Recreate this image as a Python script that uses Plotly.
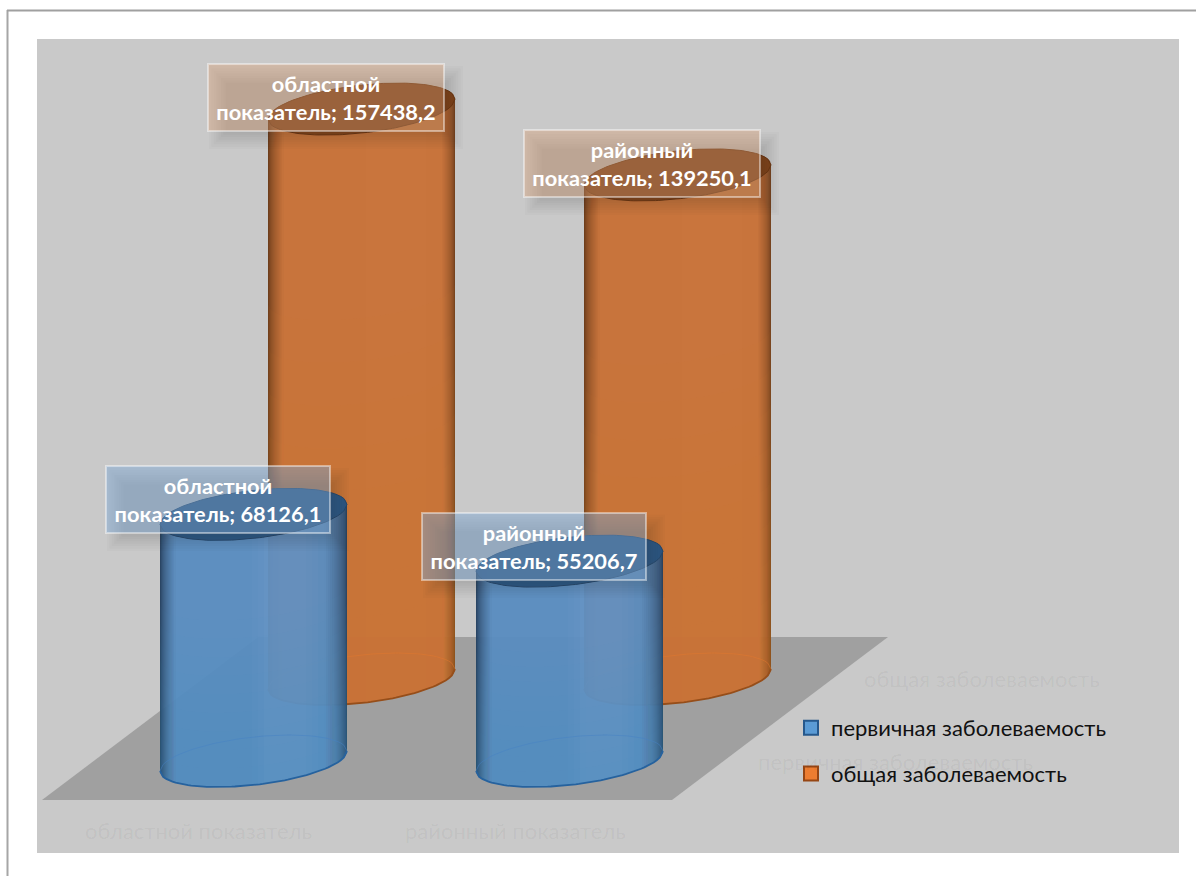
import math
import plotly.graph_objects as go

# ---- data ----
categories = ["областной показатель", "районный показатель"]
series_names = ["первичная заболеваемость", "общая заболеваемость"]
primary_values = [68126.1, 55206.7]
total_values = [157438.2, 139250.1]

# ---- view geometry of the pseudo 3D scene (pixels of the 1196x876 page) ----
W, H = 1196, 876
PX_CAT0, PX_STEP = 253.5, 316.0
PX_FRONT = 761.0
K = 0.00362                 # pixels per unit of value
DEPTH_PX_X, DEPTH_PX_Y = 108.0, 82.0
R_PX, RY_PX, SHEAR_PX = 93.5, 24.0, 10.0
FONT = "Lato, 'Noto Sans', sans-serif"


def dx(px):
    return (px - PX_CAT0) / PX_STEP


def dy(py):
    return (PX_FRONT - py) / K


def rgba(c, a):
    return f"rgba({round(c[0])},{round(c[1])},{round(c[2])},{a})"


def mix(a, b, t):
    return tuple(a[i] + (b[i] - a[i]) * t for i in range(3))


STYLE = [
    dict(base=(88, 140, 192), edge=(24, 48, 78), light=(90, 150, 215), top=(44, 86, 132), topline=(36, 72, 110),
         front=(38, 98, 158), back=(70, 130, 195), box=(125, 168, 215), boxa=0.45, alpha=0.95,
         swatch=(91, 155, 213), swline=(38, 88, 140), light_band=(106, 148, 198), band=0.5,
         dark_right=22, label_dy=-15.0, overlay=0.022),
    dict(base=(200, 112, 54), edge=(90, 46, 14), light=(232, 130, 56), top=(126, 66, 24), topline=(110, 56, 18),
         front=(150, 78, 26), back=(225, 120, 45), box=(222, 160, 115), boxa=0.38, alpha=0.96,
         swatch=(237, 125, 49), swline=(150, 70, 20), light_band=(205, 116, 58), band=0.25,
         dark_right=14, label_dy=-11.5, overlay=0.035),
]

fig = go.Figure()


def add_poly(xs, ys, fill, line=None, width=0, closed=True):
    fig.add_trace(go.Scatter(
        x=xs, y=ys, mode="lines", fill="toself" if closed else None, fillcolor=fill,
        line=dict(color=line or "rgba(0,0,0,0)", width=width),
        hoverinfo="skip", showlegend=False))


def arc(cx_px, base_val, sign, px_list):
    """points of the ellipse centred on (cx_px, base_val); sign=+1 front, -1 back"""
    out = []
    for p in px_list:
        u = max(-1.0, min(1.0, (p - cx_px) / R_PX))
        off = -SHEAR_PX * u + sign * RY_PX * math.sqrt(1 - u * u)
        out.append(base_val - off / K)
    return out


def cylinder(cat_index, series_index, value):
    st = STYLE[series_index]
    depth = series_index
    cx = PX_CAT0 + PX_STEP * cat_index + DEPTH_PX_X * depth
    base = DEPTH_PX_Y * depth / K
    top = base + value
    left, right = cx - R_PX, cx + R_PX

    # body: vertical strips on whole pixels, fine near the edges
    edges, p = [], left
    while p < right:
        edges.append(p)
        d = min(p - left, right - p)
        p += 1 if d < 14 else 2 if d < 26 else 6
    edges.append(right)
    for a, b in zip(edges[:-1], edges[1:]):
        m = (a + b) / 2
        dl, dr = m - left, right - m
        f = (m - left) / (2 * R_PX)
        c = st["base"]
        # soft lighter band right of the centre
        w = max(0.0, 1 - abs(f - 0.68) / 0.2)
        c = mix(c, st["light_band"], st["band"] * min(1.0, w * 2))
        if dl < 16:
            c = mix(st["edge"], c, (dl / 16) ** 0.55)
        if dr < st["dark_right"]:
            c = mix(st["edge"], c, (dr / st["dark_right"]) ** 0.45)
        xs = [dx(a), dx(b), dx(b), dx(a)]
        lo = arc(cx, base, 1, [a, b])
        hi = arc(cx, top, -1, [a, b])
        add_poly(xs, [lo[0], lo[1], hi[1], hi[0]], rgba(c, st["alpha"]))

    # gradual brightening toward the floor
    grid = [left + i * (right - left) / 60 for i in range(61)]
    for j in range(1, 10):
        lift = value * j / 10 * 0.75
        lo = arc(cx, base, 1, grid)
        hi = arc(cx, base + lift, 1, grid)
        add_poly([dx(p) for p in grid + grid[::-1]], lo + hi[::-1], rgba(st["light"], st["overlay"]))

    # base ellipse arcs
    fig.add_trace(go.Scatter(x=[dx(p) for p in grid], y=arc(cx, base, -1, grid), mode="lines",
                             line=dict(color=rgba(st["back"], 0.5), width=1), hoverinfo="skip", showlegend=False))
    fig.add_trace(go.Scatter(x=[dx(p) for p in grid], y=arc(cx, base, 1, grid), mode="lines",
                             line=dict(color=rgba(st["front"], 1), width=1.8), hoverinfo="skip", showlegend=False))

    # top ellipse
    lo = arc(cx, top, 1, grid)
    hi = arc(cx, top, -1, grid)
    add_poly([dx(p) for p in grid + grid[::-1]], lo + hi[::-1], rgba(st["top"], 0.95), rgba(st["topline"], 1), 1)


def label(cat_index, series_index, value, box_w):
    st = STYLE[series_index]
    cx = PX_CAT0 + PX_STEP * cat_index + DEPTH_PX_X * series_index
    top_py = PX_FRONT - DEPTH_PX_Y * series_index - value * K
    bx, by = cx - 35.5, top_py + st["label_dy"]
    box_h = 67
    # blurred drop shadow
    for i in range(8):
        inset = i * 2.4 - 8
        fig.add_shape(type="rect", xref="x", yref="y",
                      x0=dx(bx - box_w / 2 + 10 + inset), x1=dx(bx + box_w / 2 + 10 - inset),
                      y0=dy(by - box_h / 2 + 10 + inset), y1=dy(by + box_h / 2 + 10 - inset),
                      fillcolor="rgba(40,40,40,0.025)", line_width=0, layer="above")
    first, second = categories[cat_index].split(" ")
    text = f"<b>{first}<br>{second}; {value:.1f}</b>".replace(".", ",")
    fig.add_annotation(x=dx(bx), y=dy(by), xref="x", yref="y", text=text, showarrow=False,
                       width=box_w - 6, height=box_h - 4, align="center", valign="middle",
                       bgcolor=rgba(st["box"], st["boxa"]), bordercolor="rgba(255,255,255,0.45)",
                       borderwidth=2, borderpad=1, font=dict(family=FONT, size=21.8, color="white"))


# floor
fx = [42, 672, 888, 258]
fy = [800, 800, 637, 637]
add_poly([dx(p) for p in fx], [dy(p) for p in fy], "#a0a0a0")

for i, v in enumerate(total_values):
    cylinder(i, 1, v)
for i, v in enumerate(primary_values):
    cylinder(i, 0, v)

for i, v in enumerate(total_values):
    label(i, 1, v, 238)
for i, v in enumerate(primary_values):
    label(i, 0, v, 226)

# faint axis labels
FAINT = "rgba(0,0,0,0.05)"
for cat, px in zip(categories, [198.5, 515.5]):
    fig.add_annotation(x=dx(px), y=dy(830), xref="x", yref="y", text=cat, showarrow=False,
                       font=dict(family=FONT, size=22, color=FAINT))
for name, px, py in zip(series_names, [895.5, 982], [761, 678]):
    fig.add_annotation(x=dx(px), y=dy(py), xref="x", yref="y", text=name, showarrow=False,
                       font=dict(family=FONT, size=22, color=FAINT))

# legend entries
for i, name in enumerate(series_names):
    st = STYLE[i]
    fig.add_trace(go.Scatter(x=[None], y=[None], mode="markers", name=name, legendgroup=name,
                             marker=dict(symbol="square", size=14, color=rgba(st["swatch"], 1),
                                         line=dict(color=rgba(st["swline"], 1), width=2)),
                             hoverinfo="skip"))

shapes_bg = [
    dict(type="rect", xref="paper", yref="paper", x0=37 / W, x1=1179 / W, y0=1 - 853 / H, y1=1 - 39 / H,
         fillcolor="#c9c9c9", line_width=0, layer="below"),
    dict(type="line", xref="paper", yref="paper", x0=7.5 / W, x1=7.5 / W, y0=0, y1=1 - 10 / H,
         line=dict(color="#a6a6a6", width=2), layer="below"),
    dict(type="line", xref="paper", yref="paper", x0=7 / W, x1=1, y0=1 - 10.5 / H, y1=1 - 10.5 / H,
         line=dict(color="#a0a0a0", width=2), layer="below"),
]
for s in shapes_bg:
    fig.add_shape(**s)

fig.update_layout(
    width=W, height=H, margin=dict(l=0, r=0, t=0, b=0, pad=0),
    paper_bgcolor="white", plot_bgcolor="rgba(0,0,0,0)",
    xaxis=dict(visible=False, range=[dx(0), dx(W)], fixedrange=True),
    yaxis=dict(visible=False, range=[dy(H), dy(0)], fixedrange=True),
    legend=dict(x=791 / W, y=1 - 707 / H, xanchor="left", yanchor="top", bgcolor="rgba(0,0,0,0)",
                font=dict(family=FONT, size=22, color="#111111"), tracegroupgap=14, itemclick=False,
                itemdoubleclick=False),
    showlegend=True,
)

fig.write_html("out.html", config=dict(displayModeBar=False),
               post_script="document.body.style.margin='0';document.body.style.overflow='hidden';")
